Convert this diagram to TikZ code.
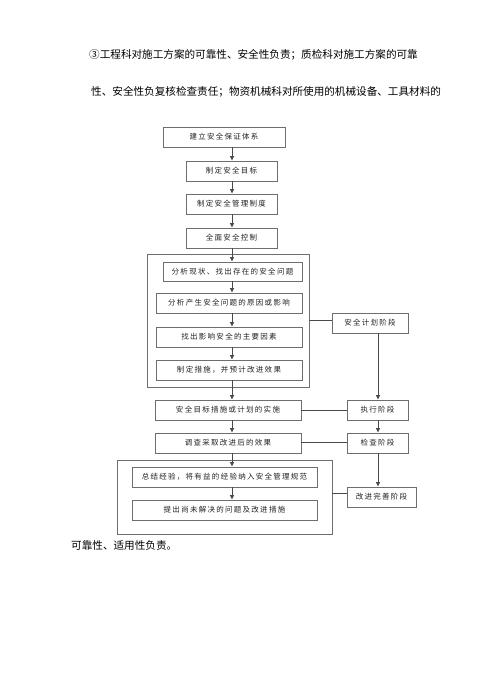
\documentclass[tikz,border=0pt]{standalone}
\usepackage{fontspec}
\setmainfont{Noto Sans CJK SC}
\newfontfamily\boxfont[LetterSpace=17]{Noto Sans CJK SC}
\usetikzlibrary{arrows.meta,calc}
\definecolor{bordergray}{HTML}{6E6E6E}
\definecolor{linegray}{HTML}{4A4A4A}
\definecolor{textgray}{HTML}{222222}
\tikzset{
  flowbox/.style={draw=bordergray, line width=0.9pt, inner sep=0pt, text=textgray,
    font=\boxfont\fontsize{7.5}{8}\selectfont},
  framebox/.style={draw=bordergray, line width=0.9pt},
  conn/.style={draw=linegray, line width=0.9pt},
  arr/.style={conn, -{Triangle[length=4.5pt,width=4pt]}},
  bodytext/.style={anchor=west, inner sep=0pt, text=black, font=\fontsize{10.6}{12}\selectfont}
}
\begin{document}
\begin{tikzpicture}[x=1pt,y=-1pt]
\useasboundingbox (0,0) rectangle (500,675);
% body text
\node[bodytext] (t1) at (89,55) {③工程科对施工方案的可靠性、安全性负责；质检科对施工方案的可靠};
\node[bodytext] (t2) at (91,92) {性、安全性负复核检查责任；物资机械科对所使用的机械设备、工具材料的};
\node[bodytext] (t3) at (71,545) {可靠性、适用性负责。};
% frames
\node[framebox, minimum width=162pt, minimum height=133pt, inner sep=0pt] (f1) at (228,320.5) {};
\node[framebox, minimum width=215pt, minimum height=74pt, inner sep=0pt] (f2) at (224.5,497) {};
% main column
\node[flowbox, minimum width=122pt, minimum height=20pt] (b1) at (224,137) {建立安全保证体系};
\node[flowbox, minimum width=91pt, minimum height=20pt] (b2) at (231.5,171) {制定安全目标};
\node[flowbox, minimum width=91pt, minimum height=20pt] (b3) at (231.5,204) {制定安全管理制度};
\node[flowbox, minimum width=91pt, minimum height=20pt] (b4) at (231.5,238) {全面安全控制};
\node[flowbox, minimum width=139pt, minimum height=19pt] (i1) at (232.5,271.5) {分析现状、找出存在的安全问题};
\node[flowbox, minimum width=146pt, minimum height=20pt] (i2) at (229,303) {分析产生安全问题的原因或影响};
\node[flowbox, minimum width=146pt, minimum height=20pt] (i3) at (229,337) {找出影响安全的主要因素};
\node[flowbox, minimum width=146pt, minimum height=20pt] (i4) at (229,370) {制定措施，并预计改进效果};
\node[flowbox, minimum width=146pt, minimum height=20pt] (m1) at (228,410) {安全目标措施或计划的实施};
\node[flowbox, minimum width=146pt, minimum height=20pt] (m2) at (228,443) {调查采取改进后的效果};
\node[flowbox, minimum width=185pt, minimum height=20pt] (j1) at (224.5,477) {总结经验，将有益的经验纳入安全管理规范};
\node[flowbox, minimum width=185pt, minimum height=20pt] (j2) at (224.5,510) {提出尚未解决的问题及改进措施};
% right column
\node[flowbox, minimum width=76pt, minimum height=20pt] (p1) at (370,323) {安全计划阶段};
\node[flowbox, minimum width=61pt, minimum height=20pt] (p2) at (377.5,410) {执行阶段};
\node[flowbox, minimum width=61pt, minimum height=20pt] (p3) at (377.5,443) {检查阶段};
\node[flowbox, minimum width=69pt, minimum height=20pt] (p4) at (381.5,497) {改进完善阶段};
% axis coordinates
\coordinate (ax) at (232,0);
\coordinate (vx) at (378,0);
% main arrows
\draw[arr] (b1.south -| ax) -- (b2.north -| ax);
\draw[arr] (b2.south -| ax) -- (b3.north -| ax);
\draw[arr] (b3.south -| ax) -- (b4.north -| ax);
\draw[arr] (b4.south -| ax) -- (i1.north -| ax);
\draw[arr] (i1.south -| ax) -- (i2.north -| ax);
\draw[arr] (i2.south -| ax) -- (i3.north -| ax);
\draw[arr] (i3.south -| ax) -- (i4.north -| ax);
\draw[arr] (i4.south -| ax) -- (m1.north -| ax);
\draw[arr] (m1.south -| ax) -- (m2.north -| ax);
\draw[arr] (m2.south -| ax) -- (j1.north -| ax);
\draw[arr] (j1.south -| ax) -- (j2.north -| ax);
% right arrows
\draw[arr] (p1.south -| vx) -- (p2.north -| vx);
\draw[arr] (p2.south -| vx) -- (p3.north -| vx);
\draw[arr] (p3.south -| vx) -- (p4.north -| vx);
% horizontal links
\coordinate (h1) at (0,320);
\coordinate (h4) at (0,493);
\draw[conn] (f1.east |- h1) -- (p1.west |- h1);
\draw[conn] (m1.east) -- (p2.west);
\draw[conn] (m2.east |- 0,442) -- (p3.west |- 0,442);
\draw[conn] (f2.east |- h4) -- (p4.west |- h4);
\end{tikzpicture}
\end{document}
